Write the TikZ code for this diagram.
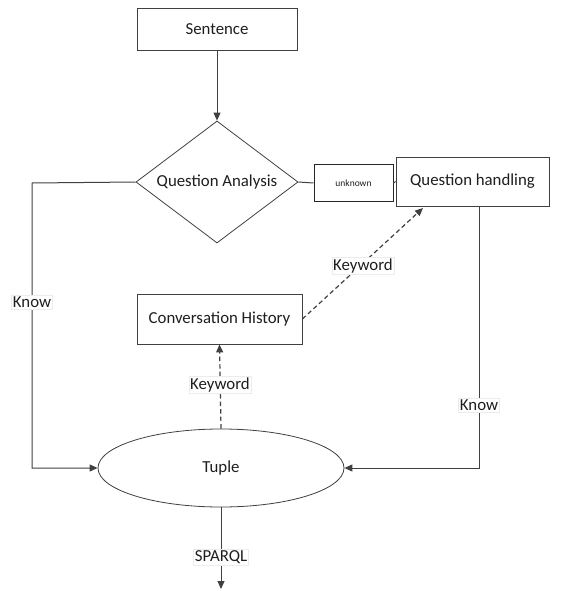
\documentclass[tikz,border=0pt]{standalone}
\usepackage{fontspec}
\setmainfont{Carlito}
\usetikzlibrary{arrows.meta,shapes.geometric}
\definecolor{ln}{HTML}{404040}
\definecolor{tx}{HTML}{1E1E1E}
\begin{document}
\begin{tikzpicture}[x=1pt,y=-1pt,
  every node/.style={text=tx},
  box/.style={draw=ln,line width=0.8pt,fill=white,inner sep=0pt,font=\fontsize{16.8}{18}\selectfont},
  lbl/.style={fill=white,draw=gray!15,line width=0.4pt,inner sep=1.5pt,font=\fontsize{16.8}{18}\selectfont},
  conn/.style={draw=ln,line width=1pt},
  arr/.style={conn,-{Triangle[length=8pt,width=7pt]}},
  darr/.style={arr,line width=1.2pt,dash pattern=on 4.5pt off 3pt}]
\useasboundingbox (0,0) rectangle (560,591);
\node[box,minimum width=160,minimum height=42] (sent) at (217,29) {Sentence};
\node[box,shape=diamond,aspect=1.33,minimum width=162,minimum height=122] (qa) at (217,182) {Question Analysis};
\node[box,draw=black!85,line width=1pt,minimum width=79,minimum height=37,font=\fontsize{9.5}{10}\selectfont] (unk) at (353.5,183) {unknown};
\node[box,minimum width=153,minimum height=49] (qh) at (472.5,181.5) {Question handling};
\node[box,minimum width=165,minimum height=50] (ch) at (219.5,319) {Conversation History};
\node[box,shape=ellipse,minimum width=246,minimum height=78] (tup) at (221,468) {Tuple};
\coordinate (lt) at (32,183);
\coordinate (lb) at (32,468);
\coordinate (rt) at (479,206);
\coordinate (rb) at (479,468);
\coordinate (qhb) at (423,208);
\coordinate (out) at (221,589);
\draw[arr] (sent.south) -- (qa.north);
\draw[conn] (qa.east) -- (unk.west);
\draw[conn] (unk.east) -- (qh.west);
\draw[arr] (qa.west) -- (lt) -- (lb) -- (tup.west);
\draw[arr] (rt) -- (rb) -- (tup.east);
\draw[darr] (ch.east) -- (qhb);
\draw[darr] (tup.north) -- (ch.south);
\draw[arr] (tup.south) -- (out);
\node[lbl] (k1) at (32,302) {Know};
\node[lbl] (k2) at (479,405) {Know};
\node[lbl] (kw1) at (363,266) {Keyword};
\node[lbl] (kw2) at (220,385) {Keyword};
\node[lbl] (sp) at (221,557) {SPARQL};
\end{tikzpicture}
\end{document}
